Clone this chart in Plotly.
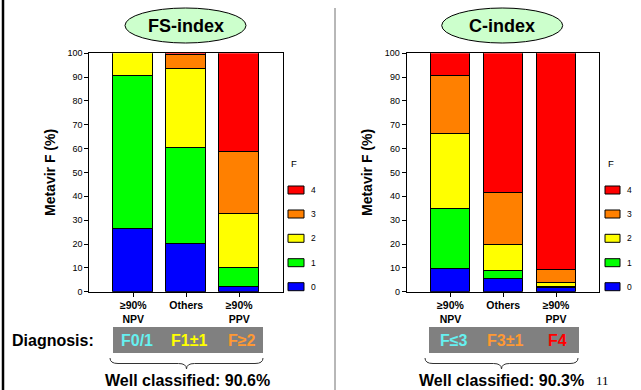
import plotly.graph_objects as go

W, H = 641, 390

categories = ["≥90%<br>NPV", "Others", "≥90%<br>PPV"]
stages = ["0", "1", "2", "3", "4"]
stage_colors = ["#0000FF", "#00FF00", "#FFFF00", "#FF8000", "#FF0000"]

# FS-index: % of each Metavir F stage per class
fs_F0 = [26.0, 20.0, 2.0]
fs_F1 = [64.5, 40.0, 7.8]
fs_F2 = [9.5, 33.3, 22.6]
fs_F3 = [0.0, 5.7, 26.1]
fs_F4 = [0.0, 1.0, 41.5]

# C-index
c_F0 = [9.4, 5.3, 1.4]
c_F1 = [25.3, 3.1, 0.3]
c_F2 = [31.2, 10.9, 2.0]
c_F3 = [24.3, 22.2, 5.3]
c_F4 = [9.8, 58.5, 91.0]

y_ticks = list(range(0, 101, 10))

panel_titles = ["FS-index", "C-index"]
diag_labels = [["F0/1", "F1±1", "F≥2"], ["F≤3", "F3±1", "F4"]]
diag_colors = [["#66F0F0", "#FFFF00", "#FF9933"], ["#66F0F0", "#FF9933", "#FF0000"]]
well_classified = ["Well classified: 90.6%", "Well classified: 90.3%"]
page_number = "11"

FONT = "Liberation Sans, Arial, sans-serif"


def px(x):
    return x / W


def py(y):
    return 1 - y / H


fig = go.Figure()

series = [
    [fs_F0, fs_F1, fs_F2, fs_F3, fs_F4],
    [c_F0, c_F1, c_F2, c_F3, c_F4],
]
xs = list(range(len(categories)))
for p, vals in enumerate(series):
    xa = "x" if p == 0 else "x2"
    ya = "y" if p == 0 else "y2"
    for s, v in enumerate(vals):
        fig.add_trace(go.Bar(
            x=xs, y=v, name=stages[s], xaxis=xa, yaxis=ya,
            marker=dict(color=stage_colors[s], line=dict(color="black", width=1)),
            width=0.74, showlegend=False,
        ))

axis_common = dict(showgrid=False, zeroline=False, showline=True, linecolor="black",
                   linewidth=1, mirror=True, ticks="outside", ticklen=4,
                   tickcolor="black", automargin=False)
ydom = [py(291.7), py(53.2)]
xdoms = [[px(89.3), px(282.7)], [px(406.7), px(599.3)]]
for p in range(2):
    sx = "" if p == 0 else "2"
    fig.layout["xaxis" + sx] = dict(
        axis_common, domain=xdoms[p], range=[-0.83, 2.82],
        tickvals=xs, ticktext=categories,
        tickfont=dict(family=FONT, size=10.5, color="black", weight="bold"),
        anchor="y" + sx,
    )
    fig.layout["yaxis" + sx] = dict(
        axis_common, domain=ydom, range=[0, 100], tickvals=y_ticks,
        tickfont=dict(family=FONT, size=9, color="black"),
        title=dict(text="Metavir F (%)", standoff=8,
                   font=dict(family=FONT, size=14, color="black", weight="bold")),
        anchor="x" + sx,
    )

shapes = []
annos = []

# page frame lines
shapes.append(dict(type="line", xref="paper", yref="paper", x0=px(3), x1=px(3),
                   y0=py(0), y1=py(390), line=dict(color="black", width=2.5)))
shapes.append(dict(type="line", xref="paper", yref="paper", x0=px(335), x1=px(335),
                   y0=py(8), y1=py(390), line=dict(color="#707070", width=1)))

ell_x = [(125, 246), (441.7, 562.7)]
box_x = [(113, 263), (429, 579)]
diag_x = [[137, 189, 242], [454, 505, 557]]
brace_x = [(110, 263), (425, 578)]
well_cx = [187, 501]
leg_box_x = [(288, 304), (605, 620)]
leg_lab_x = [313, 629]
leg_F_x = [294, 611]
leg_y = {"4": 190, "3": 214, "2": 238.3, "1": 262.7, "0": 286.7}

for p in range(2):
    # title ellipse
    x0, x1 = ell_x[p]
    shapes.append(dict(type="circle", xref="paper", yref="paper",
                       x0=px(x0), x1=px(x1), y0=py(43), y1=py(8),
                       fillcolor="#CCFFCC", line=dict(color="black", width=1)))
    annos.append(dict(x=px((x0 + x1) / 2), y=py(26.5), xref="paper", yref="paper",
                      text="<b>%s</b>" % panel_titles[p], showarrow=False,
                      font=dict(family=FONT, size=18, color="black"),
                      xanchor="center", yanchor="middle"))
    # diagnosis box
    b0, b1 = box_x[p]
    shapes.append(dict(type="rect", xref="paper", yref="paper",
                       x0=px(b0), x1=px(b1), y0=py(353), y1=py(327),
                       fillcolor="#808080", line=dict(width=0)))
    for k in range(3):
        annos.append(dict(x=px(diag_x[p][k]), y=py(340.5), xref="paper", yref="paper",
                          text="<b>%s</b>" % diag_labels[p][k], showarrow=False,
                          font=dict(family=FONT, size=16, color=diag_colors[p][k]),
                          xanchor="center", yanchor="middle"))
    # brace
    a, bb = brace_x[p]
    m = (a + bb) / 2
    top, mid, tip = 358, 363.5, 369
    path = ("M {},{} Q {},{} {},{} L {},{} Q {},{} {},{} Q {},{} {},{} L {},{} Q {},{} {},{}"
            .format(px(a), py(top), px(a), py(mid), px(a + 8), py(mid),
                    px(m - 8), py(mid), px(m), py(mid), px(m), py(tip),
                    px(m), py(mid), px(m + 8), py(mid),
                    px(bb - 8), py(mid), px(bb), py(mid), px(bb), py(top)))
    shapes.append(dict(type="path", xref="paper", yref="paper", path=path,
                       line=dict(color="#333333", width=1)))
    annos.append(dict(x=px(well_cx[p]), y=py(380.5), xref="paper", yref="paper",
                      text="<b>%s</b>" % well_classified[p], showarrow=False,
                      font=dict(family=FONT, size=16, color="black"),
                      xanchor="center", yanchor="middle"))
    # legend
    annos.append(dict(x=px(leg_F_x[p]), y=py(163), xref="paper", yref="paper",
                      text="F", showarrow=False,
                      font=dict(family=FONT, size=9.5, color="black"),
                      xanchor="center", yanchor="middle"))
    for s in range(5):
        yc = leg_y[stages[s]]
        lx0, lx1 = leg_box_x[p]
        shapes.append(dict(type="rect", xref="paper", yref="paper",
                           x0=px(lx0), x1=px(lx1), y0=py(yc + 4), y1=py(yc - 4),
                           fillcolor=stage_colors[s], line=dict(color="black", width=1)))
        annos.append(dict(x=px(leg_lab_x[p]), y=py(yc), xref="paper", yref="paper",
                          text=stages[s], showarrow=False,
                          font=dict(family=FONT, size=8.5, color="black"),
                          xanchor="center", yanchor="middle"))

annos.append(dict(x=px(10), y=py(340.5), xref="paper", yref="paper",
                  text="<b>Diagnosis:</b>", showarrow=False,
                  font=dict(family=FONT, size=16, color="black"),
                  xanchor="left", yanchor="middle"))
annos.append(dict(x=px(602), y=py(380), xref="paper", yref="paper",
                  text=page_number, showarrow=False,
                  font=dict(family="Liberation Serif, Times New Roman, serif", size=13,
                            color="black"),
                  xanchor="center", yanchor="middle"))

fig.update_layout(
    width=W, height=H, barmode="stack", bargap=0,
    margin=dict(l=0, r=0, t=0, b=0, autoexpand=False),
    paper_bgcolor="white", plot_bgcolor="white",
    shapes=shapes, annotations=annos, showlegend=False,
)

fig.write_html("out.html", config={"displayModeBar": False},
               post_script="document.body.style.margin='0';document.body.style.overflow='hidden';")
